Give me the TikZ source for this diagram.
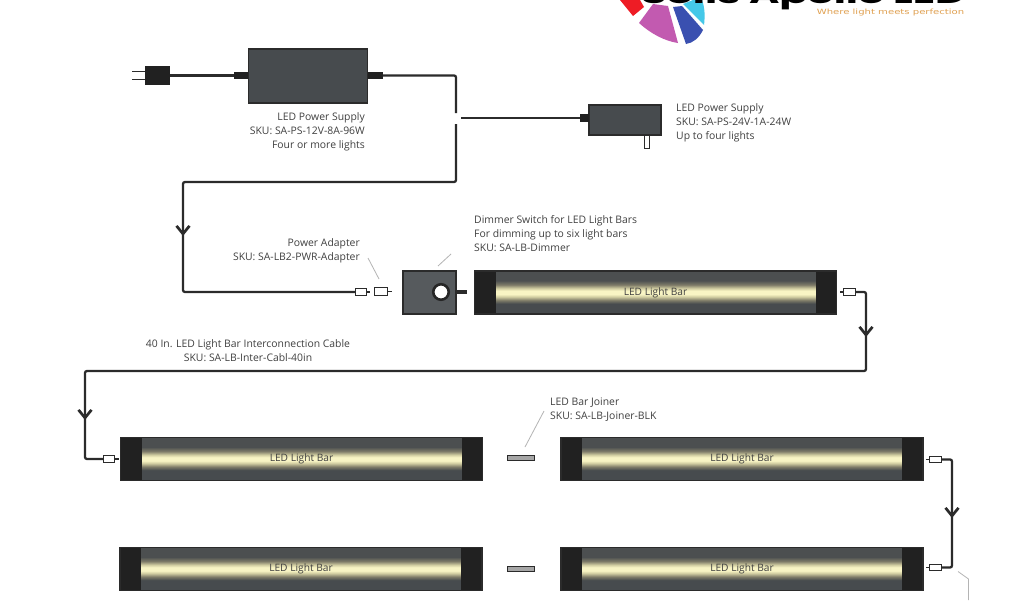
\documentclass[tikz,border=0pt]{standalone}
\usepackage{fontspec}
\setmainfont{Open Sans}
\newfontfamily\logofont{Poppins}
\newfontfamily\tagfont{DejaVu Sans}
\usetikzlibrary{arrows.meta,calc}
\definecolor{wirec}{HTML}{2B2B2B}
\definecolor{capc}{HTML}{212121}
\definecolor{bodyc}{HTML}{474B4E}
\definecolor{boxc}{HTML}{565A5D}
\definecolor{txtc}{HTML}{404040}
\definecolor{leadc}{HTML}{B4B4B4}
\definecolor{glowa}{HTML}{4C4F50}
\definecolor{glowb}{HTML}{7E7B68}
\definecolor{glowc}{HTML}{CFCBA0}
\definecolor{glowd}{HTML}{F8F4C4}
\definecolor{logored}{HTML}{EE1C25}
\definecolor{logomag}{HTML}{C25AB0}
\definecolor{logoblu}{HTML}{3A50B0}
\definecolor{logocya}{HTML}{45C8E8}
\definecolor{logotag}{HTML}{E0A050}
\pgfdeclareverticalshading{barglow}{100bp}{
 color(0bp)=(bodyc); color(37bp)=(bodyc); color(41bp)=(glowb); color(45bp)=(glowc);
 color(48bp)=(glowd); color(52bp)=(glowd); color(55bp)=(glowc); color(59bp)=(glowb);
 color(64bp)=(glowa); color(100bp)=(glowa)}
\tikzset{
 wire/.style={draw=wirec,line width=2.3pt,rounded corners=2pt},
 thinstub/.style={draw=wirec,line width=1.8pt},
 lead/.style={draw=leadc,line width=0.8pt},
 barrow/.style={wire,-{Straight Barb[length=8pt,width=13pt,line width=2.7pt]}},
 plugstub/.style={draw=none,fill=capc,minimum width=#1,minimum height=7pt,inner sep=0pt},
 ctop/.style={draw=wirec,fill=white,line width=1pt,minimum width=11.5pt,minimum height=6.5pt,inner sep=0pt},
 psbox/.style={draw=wirec,fill=bodyc,line width=1.6pt,inner sep=0pt},
 joiner/.style={draw=wirec,fill=gray!70,line width=1.1pt,minimum width=27pt,minimum height=5.5pt,inner sep=0pt},
 lightbar/.style={draw=wirec,line width=1.8pt,minimum width=362pt,minimum height=43pt,inner sep=0pt,
  text=txtc,font=\fontsize{10.2}{12}\selectfont,
  path picture={
   \shade[shading=barglow] (path picture bounding box.south west) rectangle (path picture bounding box.north east);
   \fill[capc] (path picture bounding box.north west) rectangle ([xshift=21pt]path picture bounding box.south west);
   \fill[capc] (path picture bounding box.north east) rectangle ([xshift=-21pt]path picture bounding box.south east);
  }},
 lab/.style={text=txtc,inner sep=0pt,font=\fontsize{10.4}{14}\selectfont}
}
\begin{document}
\begin{tikzpicture}[x=1pt,y=-1pt]
\useasboundingbox (0,0) rectangle (1024,600);
\fill[white] (0,0) rectangle (1024,600);
\begin{scope}
\clip (0,0) rectangle (1024,600);
% logo
\fill[logored] (620,0) -- (633,16) -- (644,7) -- (640,0) -- cycle;
\fill[logomag] (639,23) -- (653,4) -- (668,6) -- (678,43) .. controls (664,41) and (650,33) .. (639,23) -- cycle;
\fill[logoblu] (673,7) -- (682,6) -- (703,30) .. controls (699,38) and (693,43) .. (686,44) -- cycle;
\fill[logocya] (683,4) -- (693,0) -- (702,0) .. controls (705,8) and (705,17) .. (704,25) -- cycle;
\node[anchor=base west,inner sep=0pt,text=black] (logotext) at (641,3) {\scalebox{1.72}[1]{\logofont\bfseries\fontsize{24}{24}\selectfont Solis Apollo LED}};
\end{scope}
\node[anchor=center,inner sep=0pt,text=logotag] (tagline) at (890.5,12.5) {\scalebox{1.4}[1]{\tagfont\fontsize{7.2}{9}\selectfont Where light meets perfection}};

% 12V supply
\node[psbox,minimum width=119pt,minimum height=54pt] (ps12) at (308,76) {};
\node[plugstub=14pt] (ps12l) at (241,75.5) {};
\node[plugstub=15pt] (ps12r) at (375,75.5) {};
\node[draw=none,fill=capc,minimum width=25pt,minimum height=19pt,inner sep=0pt] (plug) at (157.5,75.5) {};
\coordinate (pr1) at (132,71.5); \coordinate (pr2) at (132,79.5);
\draw[thinstub] (pr1) -- (pr1 -| plug.west);
\draw[thinstub] (pr2) -- (pr2 -| plug.west);
\draw[wire] (plug.east) -- (ps12l.west);
\coordinate (gapt) at (456,113);
\coordinate (gapb) at (456,124);
\coordinate (w1) at (183,182);
\draw[wire] (ps12r.east) -- (gapt |- ps12r.east) -- (gapt);
\coordinate (ar1a) at (183,222);
\coordinate (ar1b) at (183,236);
\node[ctop] (c1) at (361,292) {};
\node[ctop,minimum width=13pt,minimum height=8.5pt] (c2) at (380.5,291.5) {};
\coordinate (c2s) at (392,291.5);
\draw[thinstub] (c2.east) -- (c2s);
\coordinate (c1s) at (370,292);
\draw[thinstub] (c1.east) -- (c1s);
\draw[wire] (gapb) -- (gapb |- w1) -- (w1) -- (w1 |- c1.west) -- (c1.west);
\draw[barrow] (ar1a) -- (ar1b);

% 24V supply
\node[psbox,minimum width=72pt,minimum height=30pt] (ps24) at (625,120) {};
\node[plugstub=9pt,minimum height=8pt] (ps24l) at (584.5,118) {};
\coordinate (ps24w) at (461,118);
\draw[wire] (ps24w) -- (ps24l.west);
\node[draw=wirec,fill=white,line width=0.9pt,minimum width=5.5pt,minimum height=13pt,inner sep=0pt] (prong) at (647,141.5) {};

% labels top
\node[lab,anchor=east,align=right] (t12) at (365,132) {LED Power Supply\\SKU: SA-PS-12V-8A-96W\\Four or more lights};
\node[lab,anchor=west,align=left] (t24) at (676,123) {LED Power Supply\\SKU: SA-PS-24V-1A-24W\\Up to four lights};
\node[lab,anchor=east,align=right] (tpa) at (360,251) {Power Adapter\\SKU: SA-LB2-PWR-Adapter};
\node[lab,anchor=west,align=left] (tdim) at (474,234) {Dimmer Switch for LED Light Bars\\For dimming up to six light bars\\SKU: SA-LB-Dimmer};
\node[lab,align=center] (tcab) at (248,351) {40 In. LED Light Bar Interconnection Cable\\SKU: SA-LB-Inter-Cabl-40in};
\node[lab,anchor=west,align=left] (tjoin) at (550,410) {LED Bar Joiner\\SKU: SA-LB-Joiner-BLK};

% dimmer
\node[psbox,fill=boxc,minimum width=53pt,minimum height=43pt] (dim) at (429.5,292.5) {};
\node[circle,draw=black!85,fill=white,line width=2.6pt,minimum size=15.5pt,inner sep=0pt] (knob) at (441,292) {};
\coordinate (dimend) at (467,292);
\draw[wirec,line width=4pt] (dim.east |- dimend) -- (dimend);

% leaders
\coordinate (la1) at (368,258); \coordinate (la2) at (379,279);
\draw[lead] (la1) -- (la2);
\coordinate (ld1) at (438,266); \coordinate (ld2) at (451,254);
\draw[lead] (ld1) -- (ld2);
\coordinate (lj1) at (544,411); \coordinate (lj2) at (525,447);
\draw[lead] (lj1) -- (lj2);
\coordinate (le1) at (958,571.5); \coordinate (le2) at (968.5,579); \coordinate (le3) at (968.5,600);
\draw[lead] (le1) -- (le2) -- (le3);

% bars
\node[lightbar] (b1) at (655.5,292.5) {LED Light Bar};
\node[lightbar] (b2) at (301.5,459) {LED Light Bar};
\node[lightbar] (b3) at (742,459) {LED Light Bar};
\node[lightbar] (b4) at (301,569) {LED Light Bar};
\node[lightbar] (b5) at (742,569) {LED Light Bar};

% connection bar1 -> bar2
\node[ctop] (c3) at (849.5,292) {};
\node[ctop] (c4) at (109,459) {};
\coordinate (s3) at (840,292);
\draw[thinstub] (s3) -- (c3.west);
\coordinate (s4) at (119,459);
\draw[thinstub] (c4.east) -- (s4);
\coordinate (tr1) at (866,371);
\coordinate (tr2) at (85,371);
\draw[wire] (c3.east) -- (tr1 |- c3.east) -- (tr1) -- (tr2) -- (tr2 |- c4.west) -- (c4.west);
\coordinate (ar2a) at (866,326); \coordinate (ar2b) at (866,337);
\draw[barrow] (ar2a) -- (ar2b);
\coordinate (ar3a) at (85,409); \coordinate (ar3b) at (85,420);
\draw[barrow] (ar3a) -- (ar3b);

% connection bar3 -> bar5
\node[ctop] (c5) at (935.5,459.5) {};
\node[ctop] (c6) at (935.5,567.5) {};
\coordinate (s5) at (926,459.5);
\draw[thinstub] (s5) -- (c5.west);
\coordinate (s6) at (926,567.5);
\draw[thinstub] (s6) -- (c6.west);
\coordinate (tr3) at (952,510);
\draw[wire] (c5.east) -- (tr3 |- c5.east) -- (tr3 |- c6.east) -- (c6.east);
\coordinate (ar4a) at (952,506); \coordinate (ar4b) at (952,518);
\draw[barrow] (ar4a) -- (ar4b);

% joiners
\node[joiner] (j1) at (521,458) {};
\node[joiner] (j2) at (521,569) {};
\end{tikzpicture}
\end{document}
